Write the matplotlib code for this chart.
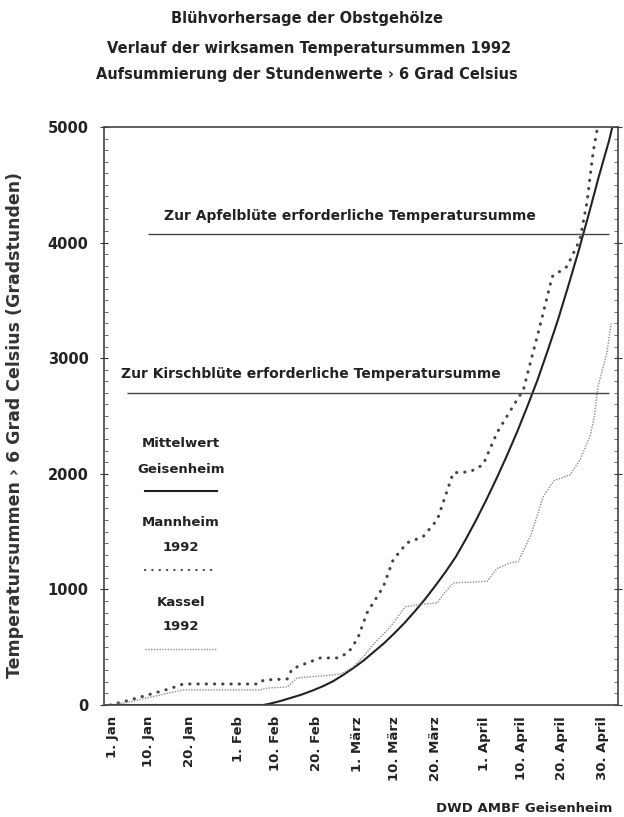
import numpy as np
import matplotlib.pyplot as plt
from matplotlib.lines import Line2D
from matplotlib.ticker import MultipleLocator

plt.rcParams['font.family'] = ['DejaVu Sans']
plt.rcParams['font.weight'] = 'bold'

# Tag im Jahr 1992 (1 = 1. Jan)
tick_days = [1, 10, 20, 32, 41, 51, 61, 70, 80, 92, 101, 111, 121]
tick_labels = ['1. Jan', '10. Jan', '20. Jan', '1. Feb', '10. Feb', '20. Feb',
               '1. März', '10. März', '20. März', '1. April', '10. April',
               '20. April', '30. April']

# Mittelwert Geisenheim
mittel_tag = [1, 38, 40, 42.5, 45, 47.5, 50, 52.5, 55, 57.5, 60, 62.5, 65, 67.5, 70, 72.5,
              75, 77.5, 80, 82.5, 85, 87.5, 90, 92.5, 95, 97.5, 100, 102.5, 105, 107.5,
              110, 112.5, 115, 117.5, 120, 122.5, 124]
mittel_wert = [0, 0, 15, 38, 65, 92, 125, 162, 205, 260, 320, 385, 460, 535, 620, 710,
               810, 915, 1030, 1150, 1280, 1435, 1600, 1775, 1960, 2155, 2360, 2580,
               2810, 3065, 3330, 3620, 3920, 4240, 4570, 4880, 5100]

# Mannheim 1992
mannheim_tag = [0.5, 5, 10, 15, 18.4, 37, 38, 43.8, 45, 48.7, 51.9, 56, 58.7, 61.1, 63.3,
                67.3, 69.7, 73.1, 77, 80.5, 84.4, 88.5, 91.7, 95.1, 100, 101.5, 106,
                108.6, 112.2, 115.4, 117.1, 118.6, 119.6, 120]
mannheim_wert = [0, 40, 90, 140, 182, 182, 216, 225, 312, 364, 407, 407, 450, 580, 796,
                 1022, 1255, 1403, 1455, 1602, 2009, 2017, 2078, 2355, 2641, 2719, 3333,
                 3706, 3792, 4026, 4346, 4779, 4978, 5050]

# Kassel 1992
kassel_tag = [1, 5, 10, 15, 18.4, 37, 39, 43.8, 46.2, 55, 57, 60, 62.4, 65, 69, 72.6,
              76.3, 80.5, 82, 84.4, 92.7, 95.1, 98.3, 100.3, 103.5, 106.4, 109, 113,
              115.4, 117.9, 118.8, 119.8, 122, 122.8, 123]
kassel_wert = [0, 25, 65, 105, 130, 130, 147, 156, 234, 260, 270, 330, 416, 530, 675, 848,
               870, 883, 960, 1056, 1070, 1180, 1229, 1240, 1480, 1801, 1940, 1991,
               2121, 2330, 2470, 2753, 3048, 3247, 3300]

apfel_summe = 4070
kirsch_summe = 2700

fig = plt.figure(figsize=(6.24, 8.17), dpi=100)
ax = fig.add_axes([0.1667, 0.1371, 0.8237, 0.7075])

ax.plot(mittel_tag, mittel_wert, color='#222222', lw=1.5)
ax.plot(mannheim_tag, mannheim_wert, color='#444444', lw=2.2,
        dashes=[0.1, 2.6], dash_capstyle='round')
ax.plot(kassel_tag, kassel_wert, color='#8c8c8c', lw=1.0, linestyle=(0, (1, 1)))

ax.hlines(apfel_summe, 9.8, 122.5, color='#444444', lw=1.0)
ax.hlines(kirsch_summe, 4.7, 122.5, color='#444444', lw=1.0)
ax.text(0.479, 0.846, 'Zur Apfelblüte erforderliche Temperatursumme', transform=ax.transAxes,
        ha='center', va='center', fontsize=10, color='#222222')
ax.text(0.403, 0.573, 'Zur Kirschblüte erforderliche Temperatursumme', transform=ax.transAxes,
        ha='center', va='center', fontsize=10, color='#222222')

# Legende
for s, y in [('Mittelwert', 0.4516), ('Geisenheim', 0.408), ('Mannheim', 0.315),
             ('1992', 0.273), ('Kassel', 0.178), ('1992', 0.135)]:
    ax.text(0.15, y, s, transform=ax.transAxes, ha='center', va='center',
            fontsize=9.5, color='#222222')
ax.add_line(Line2D([0.08, 0.22], [0.370, 0.370], transform=ax.transAxes,
                   color='#222222', lw=1.5))
ax.add_line(Line2D([0.08, 0.22], [0.234, 0.234], transform=ax.transAxes,
                   color='#444444', lw=1.6, dashes=[0.1, 3.2], dash_capstyle='round'))
ax.add_line(Line2D([0.08, 0.22], [0.097, 0.097], transform=ax.transAxes,
                   color='#8c8c8c', lw=1.0, linestyle=(0, (1, 1))))

ax.set_xlim(-1, 124.7)
ax.set_ylim(0, 5000)
ax.set_xticks(tick_days)
ax.set_xticklabels(tick_labels, rotation=90, fontsize=9.5)
ax.tick_params(axis='x', length=0, pad=8)
ax.yaxis.set_major_locator(MultipleLocator(1000))
ax.yaxis.set_minor_locator(MultipleLocator(100))
ax.tick_params(axis='y', which='major', direction='inout', length=6, labelsize=10.5,
               right=True, pad=8, colors='#333333')
ax.tick_params(axis='y', which='minor', direction='in', length=3, right=True, colors='#555555')
for t in ax.get_yticklabels() + ax.get_xticklabels():
    t.set_color('#222222')
for sp in ax.spines.values():
    sp.set_color('#444444')
    sp.set_linewidth(1.2)

ax.set_ylabel('Temperatursummen › 6 Grad Celsius (Gradstunden)', fontsize=12.5,
              fontweight='bold', color='#333333')
ax.yaxis.set_label_coords(-0.155, 0.485)

fig.text(0.492, 0.977, 'Blühvorhersage der Obstgehölze', ha='center', va='center',
         fontsize=10.5, color='#222222')
fig.text(0.495, 0.941, 'Verlauf der wirksamen Temperatursummen 1992', ha='center',
         va='center', fontsize=10.5, color='#222222')
fig.text(0.492, 0.909, 'Aufsummierung der Stundenwerte › 6 Grad Celsius', ha='center',
         va='center', fontsize=10.5, color='#222222')
fig.text(0.981, 0.011, 'DWD AMBF Geisenheim', ha='right', va='center', fontsize=9.5,
         color='#222222')

fig.savefig('out.png', dpi=100)
